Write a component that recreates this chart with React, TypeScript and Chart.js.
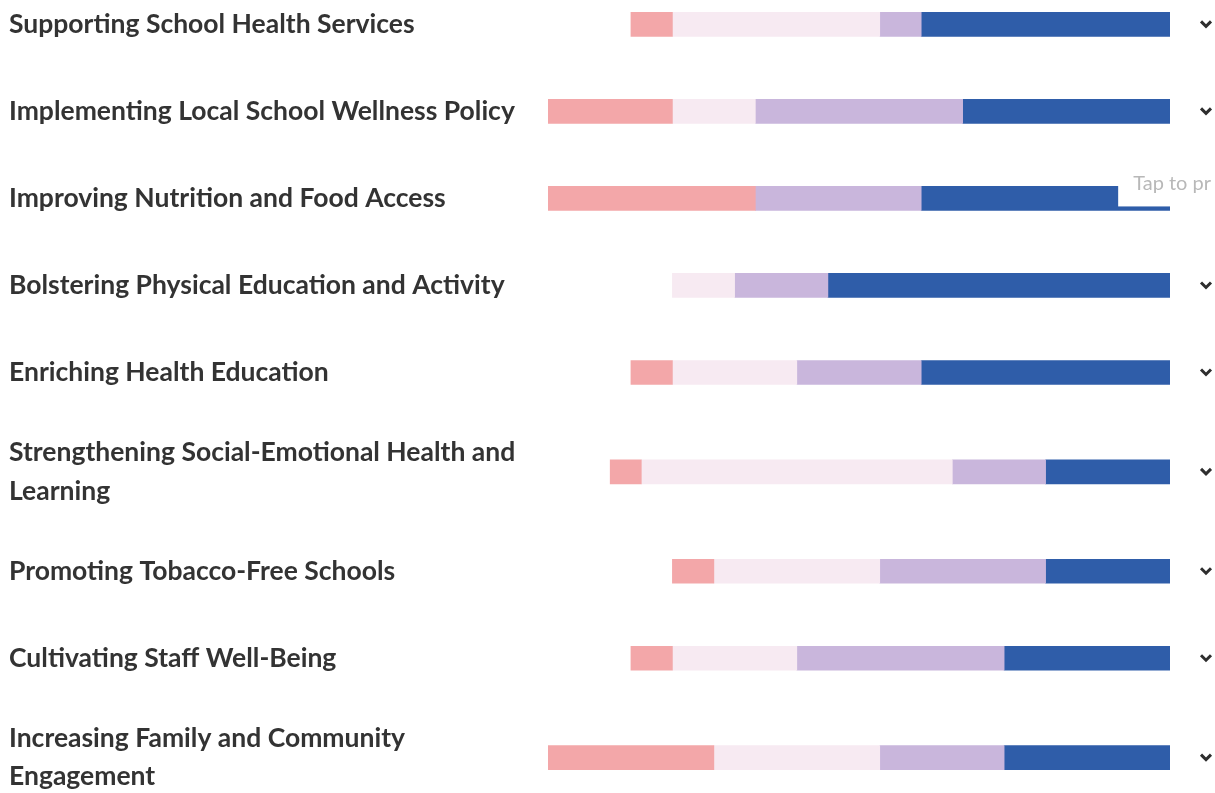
import React, { useEffect, useRef } from "react";
import { Chart, registerables } from "chart.js";

Chart.register(...registerables);

const categories: (string | string[])[] = [
  "Supporting School Health Services",
  "Implementing Local School Wellness Policy",
  "Improving Nutrition and Food Access",
  "Bolstering Physical Education and Activity",
  "Enriching Health Education",
  ["Strengthening Social-Emotional Health and", "Learning"],
  "Promoting Tobacco-Free Schools",
  "Cultivating Staff Well-Being",
  ["Increasing Family and Community", "Engagement"],
];

const seriesNames = ["Not in place", "Getting started", "Partially in place", "Fully in place"];
const notInPlace = [4, 12, 20, 0, 4, 3, 4, 4, 16];
const gettingStarted = [20, 8, 0, 6, 12, 30, 16, 12, 16];
const partially = [4, 20, 16, 9, 12, 9, 16, 20, 12];
const fully = [24, 20, 24, 33, 24, 12, 12, 16, 16];
const seriesColors = ["#f3a7a9", "#f7eaf2", "#c9b6dc", "#2f5da9"];

const scaleMax = 60;
const hintRowIndex = 2;
const hintValue = 55;
const hintText = "Tap to pr";

export default function App() {
  const canvasRef = useRef<HTMLCanvasElement | null>(null);

  useEffect(() => {
    const canvas = canvasRef.current;
    if (!canvas) return;

    // row positions derived from how many text lines each label has
    const lineCounts = categories.map((c) => (Array.isArray(c) ? c.length : 1));
    const extraPerLine = 0.284;
    const positions: number[] = [];
    lineCounts.forEach((n, i) => {
      if (i === 0) positions.push(0);
      else
        positions.push(
          positions[i - 1] + 1 + (extraPerLine * (lineCounts[i - 1] - 1 + n - 1)) / 2
        );
    });

    const series = [notInPlace, gettingStarted, partially, fully];
    const totals = categories.map((_, i) => series.reduce((s, arr) => s + arr[i], 0));
    const spacer = totals.map((t) => scaleMax - t);

    const toPoints = (arr: number[]) =>
      arr.map((v, i) => ({ x: v === 0 ? null : v, y: positions[i] }));

    const datasets: any[] = [
      {
        label: "offset",
        data: toPoints(spacer),
        backgroundColor: "rgba(0,0,0,0)",
        borderWidth: 0,
        barThickness: 24,
      },
      ...series.map((arr, k) => ({
        label: seriesNames[k],
        data: toPoints(arr),
        backgroundColor: seriesColors[k],
        borderWidth: 0,
        barThickness: 24,
      })),
    ];

    const decorations = {
      id: "decorations",
      afterDatasetsDraw(chart: any) {
        const ctx = chart.ctx;
        const x = chart.scales.x;
        const y = chart.scales.y;
        const area = chart.chartArea;
        ctx.save();
        // expand chevrons
        ctx.strokeStyle = "#2e2e2e";
        ctx.lineWidth = 3;
        ctx.lineJoin = "miter";
        positions.forEach((p) => {
          const cy = y.getPixelForValue(p);
          const cx = area.right + 36;
          ctx.beginPath();
          ctx.moveTo(cx - 5, cy - 3);
          ctx.lineTo(cx, cy + 2);
          ctx.lineTo(cx + 5, cy - 3);
          ctx.stroke();
        });
        // hint box over one row
        const hy = y.getPixelForValue(positions[hintRowIndex]);
        const hx = x.getPixelForValue(hintValue);
        ctx.fillStyle = "#ffffff";
        ctx.fillRect(hx, hy - 30, chart.width - hx, 38);
        ctx.fillStyle = "#b8b8b8";
        ctx.font = "20px Lato";
        ctx.textBaseline = "middle";
        ctx.textAlign = "left";
        ctx.fillText(hintText, hx + 15, hy - 15);
        ctx.restore();
      },
    };

    const chart = new Chart(canvas, {
      type: "bar",
      data: { datasets },
      options: {
        indexAxis: "y",
        animation: false,
        responsive: false,
        devicePixelRatio: 1,
        layout: { autoPadding: false, padding: { left: 9, right: 45, top: 7, bottom: 18 } },
        plugins: { legend: { display: false }, tooltip: { enabled: false } },
        scales: {
          x: {
            stacked: true,
            min: 0,
            max: scaleMax,
            display: false,
          },
          y: {
            type: "linear",
            stacked: true,
            reverse: true,
            offset: false,
            min: -0.2,
            max: positions[positions.length - 1] + 0.2,
            grid: { display: false },
            border: { display: false },
            afterBuildTicks: (scale: any) => {
              scale.ticks = positions.map((v) => ({ value: v }));
            },
            afterFit: (scale: any) => {
              scale.width = 539;
              scale.paddingTop = 0;
              scale.paddingBottom = 0;
            },
            ticks: {
              autoSkip: false,
              crossAlign: "far",
              color: "#333333",
              font: { family: "Lato", size: 26.5, weight: "bold", lineHeight: 1.45 },
              callback: (value: any) => {
                const i = positions.indexOf(value);
                return i >= 0 ? (categories[i] as any) : "";
              },
            },
          },
        },
      } as any,
      plugins: [decorations],
    });

    return () => chart.destroy();
  }, []);

  return (
    <div style={{ position: "absolute", left: 0, top: 0, width: 1215, height: 793, background: "#fff" }}>
      <canvas ref={canvasRef} width={1215} height={793} />
    </div>
  );
}
